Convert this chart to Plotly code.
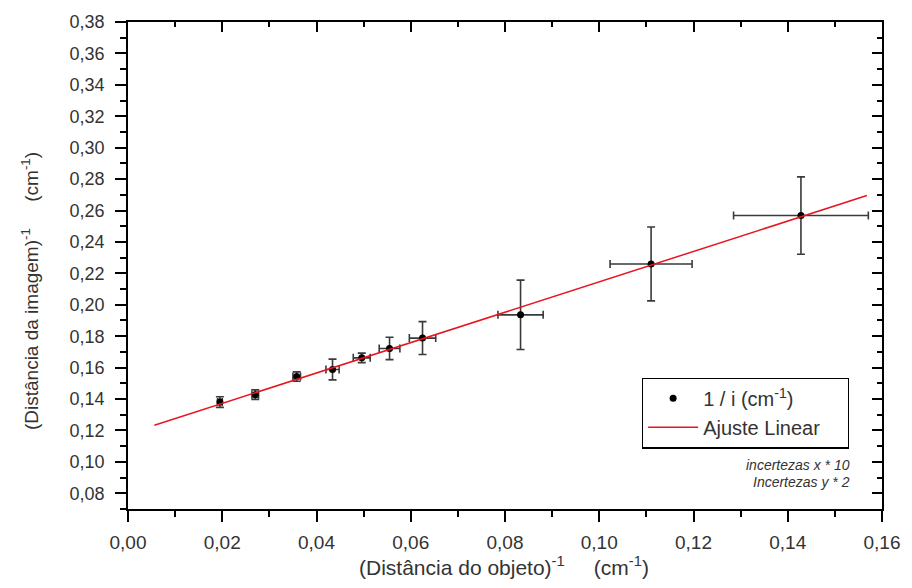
import plotly.graph_objects as go
import numpy as np

# Data
x_obj = [0.0195, 0.0270, 0.0358, 0.0434, 0.0496, 0.0555, 0.0625, 0.0833, 0.1110, 0.1428]
y_img = [0.1381, 0.1428, 0.1543, 0.1588, 0.1662, 0.1722, 0.1788, 0.1936, 0.2260, 0.2568]
x_err = [0.0005, 0.0007, 0.0008, 0.0014, 0.0018, 0.0022, 0.0028, 0.0048, 0.0087, 0.0143]
y_err = [0.0034, 0.0030, 0.0030, 0.0066, 0.0030, 0.0071, 0.0105, 0.0221, 0.0235, 0.0246]

fit_slope = 0.967
fit_intercept = 0.1179
fit_x_range = [0.0056, 0.1568]

x_ticks = [0.00, 0.02, 0.04, 0.06, 0.08, 0.10, 0.12, 0.14, 0.16]
y_ticks = [0.08, 0.10, 0.12, 0.14, 0.16, 0.18, 0.20, 0.22, 0.24, 0.26, 0.28, 0.30, 0.32, 0.34, 0.36, 0.38]

XR = [0.0, 0.16]
YR = [0.07, 0.38]

FONT = "Liberation Sans, Arial, sans-serif"
TXT = "#333333"

fig = go.Figure()

fig.add_trace(go.Scatter(
    x=x_obj, y=y_img, mode="markers",
    name="1 / i (cm<sup>-1</sup>)",
    marker=dict(color="black", size=7),
    error_x=dict(type="data", array=x_err, color="#3a3a3a", thickness=1.6, width=4),
    error_y=dict(type="data", array=y_err, color="#3a3a3a", thickness=1.6, width=4),
))

fx = np.array(fit_x_range)
fig.add_trace(go.Scatter(
    x=fx, y=fit_intercept + fit_slope * fx, mode="lines",
    name="Ajuste Linear&nbsp;&nbsp;&nbsp;&nbsp;",
    line=dict(color="#e8141e", width=1.5),
))

# invisible trace to activate mirrored axes with inward ticks
fig.add_trace(go.Scatter(x=XR, y=YR, xaxis="x2", yaxis="y2", mode="markers",
                         marker=dict(opacity=0), showlegend=False, hoverinfo="skip"))

axis_common = dict(showgrid=False, zeroline=False, showline=True, linecolor="black", linewidth=1.5,
                   tickcolor="black", tickwidth=1.5)

fig.update_layout(
    width=912, height=588,
    margin=dict(l=128, r=24, t=19, b=79),
    paper_bgcolor="white", plot_bgcolor="white",
    separators=", ",
    font=dict(family=FONT, color=TXT, size=14),
    xaxis=dict(range=XR, tickvals=x_ticks, tickformat=".2f", ticks="outside", ticklen=11,
               minor=dict(dtick=0.01, tick0=0, ticks="outside", ticklen=6, tickcolor="black", tickwidth=1.5),
               tickfont=dict(size=19, color=TXT), ticklabelstandoff=4,
               **axis_common),
    yaxis=dict(range=YR, tickvals=y_ticks, tickformat=".2f", ticks="outside", ticklen=11,
               minor=dict(dtick=0.01, tick0=0.07, ticks="outside", ticklen=6, tickcolor="black", tickwidth=1.5),
               tickfont=dict(size=18, color=TXT), ticklabelstandoff=7,
               **axis_common),
    xaxis2=dict(range=XR, overlaying="x", side="top", anchor="y", tickvals=x_ticks, ticks="inside", ticklen=10,
                showticklabels=False,
                minor=dict(dtick=0.01, tick0=0, ticks="inside", ticklen=5, tickcolor="black", tickwidth=1.5),
                **axis_common),
    yaxis2=dict(range=YR, overlaying="y", side="right", anchor="x", tickvals=y_ticks, ticks="inside", ticklen=10,
                showticklabels=False,
                minor=dict(dtick=0.01, tick0=0.07, ticks="inside", ticklen=5, tickcolor="black", tickwidth=1.5),
                **axis_common),
    legend=dict(x=0.6816, y=0.27, xanchor="left", yanchor="top",
                bordercolor="black", borderwidth=1.2, bgcolor="white",
                font=dict(size=20, color=TXT), tracegroupgap=0, itemwidth=50),
    showlegend=True,
)

# axis titles
fig.add_annotation(x=0.499, y=-0.118, xref="paper", yref="paper", xanchor="center", yanchor="middle",
                   text="(Distância do objeto)<sup>-1</sup>&nbsp;&nbsp;&nbsp;&nbsp;&nbsp;(cm<sup>-1</sup>)",
                   showarrow=False, font=dict(size=21, color=TXT))
fig.add_annotation(x=-0.129, y=0.447, xref="paper", yref="paper", xanchor="center", yanchor="middle",
                   text="(Distância da imagem)<sup>-1</sup>&nbsp;&nbsp;&nbsp;&nbsp;&nbsp;(cm<sup>-1</sup>)",
                   textangle=-90, showarrow=False, font=dict(size=19, color=TXT))

fig.add_annotation(x=0.96, y=0.090, xref="paper", yref="paper", xanchor="right", yanchor="middle",
                   text="<i>incertezas x * 10</i>", showarrow=False, font=dict(size=14, color=TXT))
fig.add_annotation(x=0.96, y=0.055, xref="paper", yref="paper", xanchor="right", yanchor="middle",
                   text="<i>Incertezas y * 2</i>", showarrow=False, font=dict(size=14, color=TXT))

fig.write_html("out.html")
